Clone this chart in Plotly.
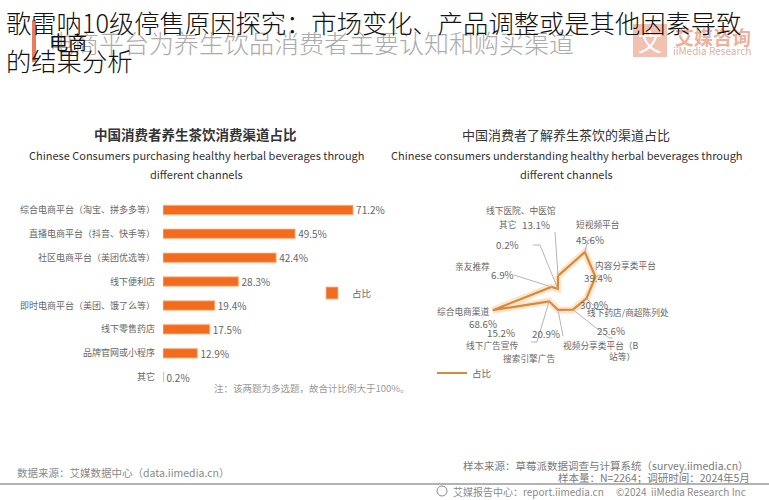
import math
import plotly.graph_objects as go

W, H = 769, 500

# ---------------- data ----------------
bar_categories = [
    "综合电商平台（淘宝、拼多多等）",
    "直播电商平台（抖音、快手等）",
    "社区电商平台（美团优选等）",
    "线下便利店",
    "即时电商平台（美团、饿了么等）",
    "线下零售药店",
    "品牌官网或小程序",
    "其它",
]
bar_values = [71.2, 49.5, 42.4, 28.3, 19.4, 17.5, 12.9, 0.2]

radar_categories = [
    "线下医院、中医馆",
    "短视频平台",
    "内容分享类平台",
    "线下药店/商超陈列处",
    "视频分享类平台（B站等）",
    "搜索引擎广告",
    "线下广告宣传",
    "综合电商渠道",
    "亲友推荐",
    "其它",
]
radar_values = [13.1, 45.6, 39.4, 30.0, 25.6, 20.9, 15.2, 68.6, 6.9, 0.2]

series_name = "占比"

# ---------------- styling / layout helpers ----------------
FONT = "Noto Sans CJK SC"
ORANGE = "#f26b1f"
RADAR = "#d8893a"
GREY = "#666666"


def px(x):
    return x / W


def py(y):
    return 1 - y / H


# polar geometry (pixels)
CX, CY, RPX = 558, 289, 160
RMAX = 160

fig = go.Figure()

fig.add_trace(go.Bar(
    orientation="h",
    y=bar_categories,
    x=bar_values,
    name=series_name,
    marker=dict(color=ORANGE, line=dict(color="rgba(255,190,140,0.55)", width=1.5)),
    width=0.4,
    text=[f"{v}%" for v in bar_values],
    textposition="outside",
    constraintext="none",
    textfont=dict(size=10, color=GREY, family=FONT),
    cliponaxis=False,
    legend="legend",
))

theta_closed = radar_categories + radar_categories[:1]
r_closed = radar_values + radar_values[:1]

fig.add_trace(go.Scatterpolar(
    r=r_closed, theta=theta_closed, mode="lines",
    line=dict(color="rgba(255,180,110,0.35)", width=7),
    showlegend=False, hoverinfo="skip",
))
fig.add_trace(go.Scatterpolar(
    r=r_closed, theta=theta_closed, mode="lines",
    line=dict(color=RADAR, width=2.2),
    name=series_name, legend="legend2",
))


def vertex(i):
    ang = math.radians(i * 360 / len(radar_values))
    v = radar_values[i] * RPX / RMAX
    return CX + v * math.sin(ang), CY - v * math.cos(ang)


shapes = []
annotations = []

# leader lines (label anchor points in pixels, ending at the data vertex)
leader_points = {
    0: [(555, 232)],
    9: [(533, 245), (540, 245)],
    1: [(592, 240), (588, 240)],
    2: [(600, 275)],
    3: [(598, 305), (593, 305)],
    4: [(613, 338), (609, 338)],
    5: [(563, 336)],
    6: [(531, 342), (537, 342)],
    8: [(514, 275)],
}
for i, pts in leader_points.items():
    allpts = pts + [vertex(i)]
    path = "M " + " L ".join(f"{px(x):.5f},{py(y):.5f}" for x, y in allpts)
    shapes.append(dict(type="path", xref="paper", yref="paper", path=path,
                       line=dict(color="#b5b5b5", width=1)))

# radar labels: (text, x, y) in pixels
radar_label_pos = [
    ("线下医院、中医馆", 558, 211), ("其它", 507, 225), ("短视频平台", 622, 225),
    ("亲友推荐", 472, 266), ("内容分享类平台", 658, 265),
    ("线下药店/商超陈列处", 671, 312), ("综合电商渠道", 463, 311),
    ("线下广告宣传", 492, 354), ("视频分享类平台（B", 641, 354), ("站等）", 637, 365),
    ("搜索引擎广告", 557, 367),
]
for t, x, y in radar_label_pos:
    annotations.append(dict(text=t, x=px(x), y=py(y), xref="paper", yref="paper",
                            showarrow=False, font=dict(size=8.7, color=GREY, family=FONT)))

radar_value_pos = {
    0: (552, 225), 1: (606, 240), 2: (614, 278), 3: (610, 305), 4: (627, 340),
    5: (562, 343), 6: (517, 342), 7: (483, 324), 8: (502, 275), 9: (521, 245),
}
for i, (x, y) in radar_value_pos.items():
    annotations.append(dict(text=f"{radar_values[i]:.1f}%", x=px(x), y=py(y), xref="paper", yref="paper",
                            showarrow=False, font=dict(size=9.8, color=GREY, family=FONT)))


def txt(t, x, y, size, color, xanchor="center", bold=False, weight=None, family=FONT):
    if bold:
        t = f"<b>{t}</b>"
    f = dict(size=size, color=color, family=family)
    if weight is not None:
        f["weight"] = weight
    annotations.append(dict(text=t, x=px(x), y=py(y), xref="paper", yref="paper",
                            xanchor=xanchor, yanchor="middle", showarrow=False, font=f))


# header (faded background)
shapes.append(dict(type="rect", xref="paper", yref="paper", x0=px(32), x1=px(36), y0=py(62), y1=py(20),
                   fillcolor="rgba(232,100,60,0.85)", line=dict(width=0)))
txt("电商平台为养生饮品消费者主要认知和购买渠道", 47, 42, 25, "#ababab", xanchor="left", weight=300)
txt("电商", 47, 42, 19, "#111111", xanchor="left")
shapes.append(dict(type="rect", xref="paper", yref="paper", x0=px(633), x1=px(667), y0=py(57), y1=py(24),
                   fillcolor="#f1c2b1", line=dict(width=0)))
txt("文", 650, 41, 24, "#ffffff")
txt("艾媒咨询", 713, 37, 19, "#eeb09c", bold=True)
txt("iiMedia Research", 712, 51, 10, "#dcb1a3")

# overlay title
txt("歌雷呐10级停售原因探究：市场变化、产品调整或是其他因素导致", 4, 22, 25.3, "#111111", xanchor="left", weight=300)
txt("的结果分析", 4, 60, 25.3, "#111111", xanchor="left", weight=300)

# chart titles
txt("中国消费者养生茶饮消费渠道占比", 195, 134, 13.5, "#333333", bold=True)
txt("Chinese Consumers purchasing healthy herbal beverages through", 197, 155, 11, "#333333")
txt("different channels", 197, 174, 11, "#333333")
txt("中国消费者了解养生茶饮的渠道占比", 566, 134, 13, "#333333")
txt("Chinese consumers understanding healthy herbal beverages through", 567, 155, 11, "#333333")
txt("different channels", 566, 174, 11, "#333333")

txt("注：该两题为多选题，故合计比例大于100%。", 212, 388, 9.5, "#999999", xanchor="left")

# footer
txt("数据来源：艾媒数据中心（data.iimedia.cn）", 15, 472, 10.5, "#8a8a8a", xanchor="left")
txt("样本来源：草莓派数据调查与计算系统（survey.iimedia.cn）", 751, 465, 10.5, "#7a7a7a", xanchor="right")
txt("样本量：N=2264；调研时间：2024年5月", 752, 477, 10.5, "#7a7a7a", xanchor="right")
shapes.append(dict(type="line", xref="paper", yref="paper", x0=0, x1=1, y0=py(484), y1=py(484),
                   line=dict(color="#9a9a9a", width=1.5)))
shapes.append(dict(type="circle", xref="paper", yref="paper", x0=px(437), x1=px(447), y0=py(496), y1=py(486),
                   line=dict(color="#8a8a8a", width=1)))
txt("艾媒报告中心：report.iimedia.cn　 ©2024  iiMedia Research Inc", 451, 491, 10, "#8a8a8a", xanchor="left")

fig.update_layout(
    width=W, height=H,
    margin=dict(l=0, r=0, t=0, b=0),
    paper_bgcolor="white", plot_bgcolor="white",
    font=dict(family=FONT, color=GREY),
    xaxis=dict(domain=[px(163), px(163 + 80 * 2.67)], range=[0, 80], visible=False, fixedrange=True),
    yaxis=dict(domain=[py(389), py(198)], autorange="reversed", showgrid=False, zeroline=False,
               showline=False, ticks="", ticklabelstandoff=7,
               tickfont=dict(size=9, color=GREY, family=FONT)),
    polar=dict(
        domain=dict(x=[px(CX - RPX), px(CX + RPX)], y=[py(CY + RPX), py(CY - RPX)]),
        bgcolor="rgba(0,0,0,0)",
        radialaxis=dict(range=[0, RMAX], visible=False),
        angularaxis=dict(rotation=90, direction="clockwise", visible=False),
    ),
    legend=dict(x=px(312), y=py(293), xanchor="left", yanchor="middle", bgcolor="rgba(0,0,0,0)",
                font=dict(size=9.5, color=GREY, family=FONT), itemwidth=30),
    legend2=dict(x=px(432), y=py(373), xanchor="left", yanchor="middle", bgcolor="rgba(0,0,0,0)",
                 font=dict(size=9.5, color=GREY, family=FONT), itemwidth=30),
    shapes=shapes,
    annotations=annotations,
    showlegend=True,
)

fig.write_html("out.html", config={"displayModeBar": False},
               post_script="document.body.style.margin='0';")
